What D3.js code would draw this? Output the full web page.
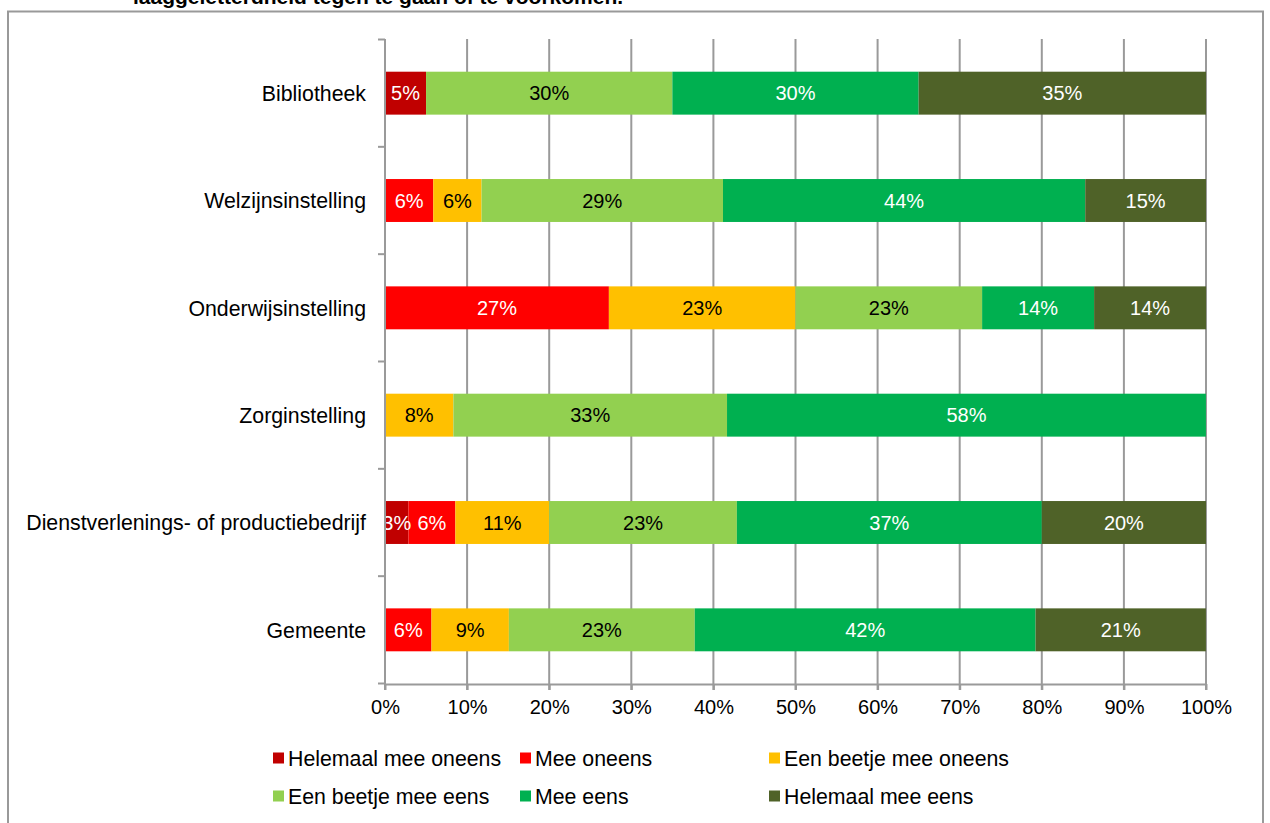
<!DOCTYPE html>
<html>
<head>
<meta charset="utf-8">
<script src="https://cdn.jsdelivr.net/npm/d3@7"></script>
<style>
  body { margin: 0; background: #fff; }
  svg { font-family: "Liberation Sans", Arial, sans-serif; }
</style>
</head>
<body>
<svg id="chart" width="1270" height="823"></svg>
<script>
// categories top to bottom
let categories = [
  "Bibliotheek",
  "Welzijnsinstelling",
  "Onderwijsinstelling",
  "Zorginstelling",
  "Dienstverlenings- of productiebedrijf",
  "Gemeente"
];
let seriesNames = [
  "Helemaal mee oneens",
  "Mee oneens",
  "Een beetje mee oneens",
  "Een beetje mee eens",
  "Mee eens",
  "Helemaal mee eens"
];
let colors = ["#C00000", "#FF0000", "#FFC000", "#92D050", "#00B050", "#4F6228"];
let labelColors = ["#fff", "#fff", "#000", "#000", "#fff", "#fff"];

// percentages per series, one value per category
let helemaalOneens = [5.0, 0, 0, 0, 2.86, 0];
let meeOneens = [0, 5.88, 27.27, 0, 5.71, 5.66];
let beetjeOneens = [0, 5.88, 22.73, 8.33, 11.43, 9.43];
let beetjeEens = [30.0, 29.41, 22.73, 33.33, 22.86, 22.64];
let meeEens = [30.0, 44.12, 13.64, 58.33, 37.14, 41.51];
let helemaalEens = [35.0, 14.71, 13.64, 0, 20.0, 20.75];
let ticks = [0, 10, 20, 30, 40, 50, 60, 70, 80, 90, 100];

let seriesValues = [helemaalOneens, meeOneens, beetjeOneens, beetjeEens, meeEens, helemaalEens];

let svg = d3.select("#chart");
let gridColor = "#9a9a9a";

// outer frame (chart area border)
svg.append("path")
  .attr("d", "M8,830 L8,11.5 L1263,11.5 L1263,830")
  .attr("fill", "none")
  .attr("stroke", "#999")
  .attr("stroke-width", 2);

// title, cut off at the top
svg.append("text")
  .attr("x", 133)
  .attr("y", 4)
  .attr("font-size", 21)
  .attr("font-weight", "bold")
  .text("laaggeletterdheid tegen te gaan of te voorkomen.");

let x = d3.scaleLinear().domain([0, 100]).range([385, 1206]);
let y = d3.scaleBand()
  .domain(categories)
  .range([39.5, 683.5])
  .paddingInner(0.6)
  .paddingOuter(0.3);

// vertical gridlines
svg.append("g")
  .selectAll("line")
  .data(ticks.slice(1))
  .join("line")
  .attr("x1", d => x(d))
  .attr("x2", d => x(d))
  .attr("y1", 39)
  .attr("y2", 690)
  .attr("stroke", gridColor)
  .attr("stroke-width", 2);

// stacked data
let rows = categories.map((c, i) => {
  let r = { cat: c };
  seriesNames.forEach((s, j) => (r[s] = seriesValues[j][i]));
  return r;
});
let stacked = d3.stack().keys(seriesNames)(rows);

svg.append("defs").append("clipPath")
  .attr("id", "plotClip")
  .append("rect")
  .attr("x", x(0))
  .attr("y", 0)
  .attr("width", x(100) - x(0))
  .attr("height", 823);

let layers = svg.append("g")
  .selectAll("g")
  .data(stacked)
  .join("g")
  .attr("fill", (d, i) => colors[i]);

layers.selectAll("rect")
  .data(d => d)
  .join("rect")
  .attr("x", d => x(d[0]))
  .attr("y", d => y(d.data.cat))
  .attr("width", d => x(d[1]) - x(d[0]))
  .attr("height", y.bandwidth());

// value labels
let labelG = svg.append("g").attr("clip-path", "url(#plotClip)");
stacked.forEach((layer, i) => {
  labelG.selectAll(null)
    .data(layer.filter(d => d[1] - d[0] > 0))
    .join("text")
    .attr("x", d => (x(d[0]) + x(d[1])) / 2)
    .attr("y", d => y(d.data.cat) + y.bandwidth() / 2)
    .attr("dy", "0.36em")
    .attr("text-anchor", "middle")
    .attr("font-size", 20)
    .attr("fill", labelColors[i])
    .text(d => Math.round(d[1] - d[0]) + "%");
});

// x axis
let xAxis = svg.append("g")
  .attr("transform", "translate(0,684)")
  .call(d3.axisBottom(x).tickValues(ticks).tickFormat(d => d + "%").tickSize(6).tickSizeOuter(0));
xAxis.select(".domain").attr("stroke", gridColor).attr("stroke-width", 2);
xAxis.selectAll(".tick line").attr("stroke", gridColor).attr("stroke-width", 2);
xAxis.selectAll(".tick text")
  .attr("font-size", 20)
  .attr("font-family", "Liberation Sans, Arial, sans-serif")
  .attr("fill", "#000")
  .attr("y", 16)
  .attr("dy", "0.71em");

// y axis line and boundary ticks
svg.append("line")
  .attr("x1", x(0)).attr("x2", x(0))
  .attr("y1", 39).attr("y2", 690)
  .attr("stroke", gridColor)
  .attr("stroke-width", 2);
let step = y.step();
svg.append("g")
  .selectAll("line")
  .data(d3.range(categories.length + 1))
  .join("line")
  .attr("x1", x(0) - 7)
  .attr("x2", x(0))
  .attr("y1", i => y.range()[0] + i * step)
  .attr("y2", i => y.range()[0] + i * step)
  .attr("stroke", gridColor)
  .attr("stroke-width", 2);

// category labels
svg.append("g")
  .selectAll("text")
  .data(categories)
  .join("text")
  .attr("x", 366)
  .attr("y", d => y(d) + y.bandwidth() / 2)
  .attr("dy", "0.36em")
  .attr("text-anchor", "end")
  .attr("font-size", 21.3)
  .text(d => d);

// legend
let legendX = [273, 520, 769];
let legendY = [758, 796];
let legend = svg.append("g")
  .selectAll("g")
  .data(seriesNames)
  .join("g")
  .attr("transform", (d, i) => `translate(${legendX[i % 3]},${legendY[Math.floor(i / 3)]})`);
legend.append("rect")
  .attr("x", 0)
  .attr("y", -5.5)
  .attr("width", 11)
  .attr("height", 11)
  .attr("fill", (d, i) => colors[i]);
legend.append("text")
  .attr("x", 15)
  .attr("dy", "0.36em")
  .attr("font-size", 21.3)
  .text(d => d);
</script>
</body>
</html>
